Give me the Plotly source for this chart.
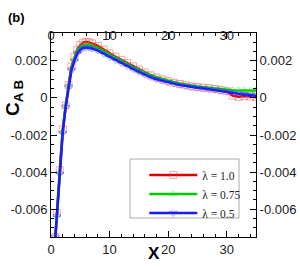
import plotly.graph_objects as go

x = [0.75, 1.0, 1.5, 2.0, 2.5, 3.0, 3.5, 4.0, 4.5, 5.0, 5.5, 6.0, 6.5, 7.0, 8, 9, 10, 11, 12, 13, 14, 15, 16, 17, 18,
     19, 20, 21, 22, 23, 24, 25, 26, 27, 28, 29, 30, 31, 32, 33, 34, 35]

c_red = [-0.0075, -0.0062, -0.0039, -0.0017, -0.0004, 0.0007, 0.0017, 0.0022, 0.0026, 0.00285, 0.00298, 0.00302,
         0.00300, 0.00294, 0.00280, 0.00260, 0.00240, 0.00222, 0.00205, 0.00188, 0.00170, 0.00153, 0.00137,
         0.00122, 0.00110, 0.00099, 0.00090, 0.00082, 0.00075, 0.00068, 0.00062, 0.00058, 0.00055, 0.00052,
         0.00048, 0.00042, 0.00036, 0.00012, 0.00006, 0.00010, 0.00008, 0.00005]
c_green = [-0.0075, -0.0063, -0.0040, -0.0018, -0.0004, 0.0007, 0.0016, 0.0021, 0.0025, 0.00272, 0.00283, 0.00287,
           0.00285, 0.00280, 0.00268, 0.00250, 0.00232, 0.00215, 0.00198, 0.00182, 0.00165, 0.00150, 0.00135,
           0.00121, 0.00110, 0.00100, 0.00092, 0.00084, 0.00077, 0.00071, 0.00066, 0.00062, 0.00058, 0.00054,
           0.00050, 0.00046, 0.00043, 0.00041, 0.00040, 0.00040, 0.00039, 0.00040]
c_blue = [-0.0075, -0.0064, -0.0041, -0.0019, -0.0005, 0.0006, 0.0015, 0.0020, 0.0024, 0.00260, 0.00269, 0.00272,
          0.00270, 0.00266, 0.00255, 0.00238, 0.00220, 0.00204, 0.00188, 0.00172, 0.00156, 0.00141, 0.00126,
          0.00112, 0.00101, 0.00092, 0.00084, 0.00077, 0.00070, 0.00064, 0.00059, 0.00055, 0.00051, 0.00047,
          0.00043, 0.00039, 0.00034, 0.00028, 0.00022, 0.00018, 0.00014, 0.00012]

names = ["λ = 1.0", "λ = 0.75", "λ = 0.5"]
series = [c_red, c_green, c_blue]
line_colors = ["#e00000", "#00cc00", "#1a1aff"]
marker_colors = ["rgba(255,60,60,0.45)", "rgba(40,220,40,0.45)", "rgba(60,60,255,0.45)"]
symbols = ["square-open", "triangle-up-open", "triangle-down-open"]

fig = go.Figure()
for nm, ys, lc, mc, sym in zip(names, series, line_colors, marker_colors, symbols):
    fig.add_trace(go.Scatter(x=x, y=ys, name=nm, mode="lines+markers",
                             line=dict(color=lc, width=2.5),
                             marker=dict(symbol=sym, size=7, color=mc, line=dict(width=1, color=mc))))

# invisible trace to activate mirrored axes (top / right)
fig.add_trace(go.Scatter(x=[None], y=[None], xaxis="x2", yaxis="y2", showlegend=False, hoverinfo="skip"))

tickfont = dict(family="Liberation Sans, Arial", size=13, color="#222")
common_x = dict(range=[0, 35], tickvals=[0, 10, 20, 30], ticks="inside", ticklen=6, tickcolor="black",
                showline=True, linecolor="black", linewidth=1, showgrid=False, zeroline=False,
                automargin=False, tickfont=tickfont,
                minor=dict(dtick=2, ticks="inside", ticklen=3, tickcolor="black"))
common_y = dict(range=[-0.0075, 0.0035], tickvals=[-0.006, -0.004, -0.002, 0, 0.002],
                ticktext=["-0.006", "-0.004", "-0.002", "0", "0.002"], ticks="inside", ticklen=6,
                tickcolor="black", showline=True, linecolor="black", linewidth=1, showgrid=False,
                zeroline=False, automargin=False, tickfont=tickfont,
                minor=dict(dtick=0.0005, ticks="inside", ticklen=3, tickcolor="black"))

fig.update_layout(
    width=300, height=267,
    margin=dict(l=51, r=44, t=33, b=30),
    paper_bgcolor="white", plot_bgcolor="white",
    xaxis=dict(**common_x),
    yaxis=dict(**common_y),
    xaxis2=dict(**common_x, overlaying="x", side="top", anchor="y", ticklabelstandoff=-13),
    yaxis2=dict(**common_y, overlaying="y", side="right", anchor="x"),
    showlegend=True,
    legend=dict(x=0.455, y=0.375, xanchor="left", yanchor="top", itemwidth=48,
                bgcolor="rgba(0,0,0,0)", borderwidth=0,
                font=dict(family="Liberation Serif, Times New Roman", size=11.5, color="#222"),
                tracegroupgap=0),
    shapes=[dict(type="rect", xref="paper", yref="paper",
                 x0=(130 - 51) / 205, x1=(239 - 51) / 205,
                 y0=(237 - 218) / 204, y1=(237 - 159) / 204,
                 line=dict(color="#aaa", width=1), fillcolor="white", layer="below")],
    annotations=[
        dict(text="<b>(b)</b>", x=-0.168, y=1.074, xref="paper", yref="paper", showarrow=False,
             xanchor="center", yanchor="middle",
             font=dict(family="Liberation Sans, Arial", size=13, color="black")),
        dict(text="<b>X</b>", x=0.5, y=-0.083, xref="paper", yref="paper", showarrow=False,
             xanchor="center", yanchor="middle",
             font=dict(family="Liberation Sans, Arial", size=17, color="black")),
        dict(text="<b>C<sub>A B</sub></b>", x=-0.18, y=0.0, xref="paper", yref="y", showarrow=False,
             xanchor="center", yanchor="middle",
             textangle=-90, font=dict(family="Liberation Sans, Arial", size=19, color="black")),
    ],
)

fig.write_html("out.html", config={"displayModeBar": False},
               post_script="document.body.style.margin='0';document.body.style.padding='0';")
